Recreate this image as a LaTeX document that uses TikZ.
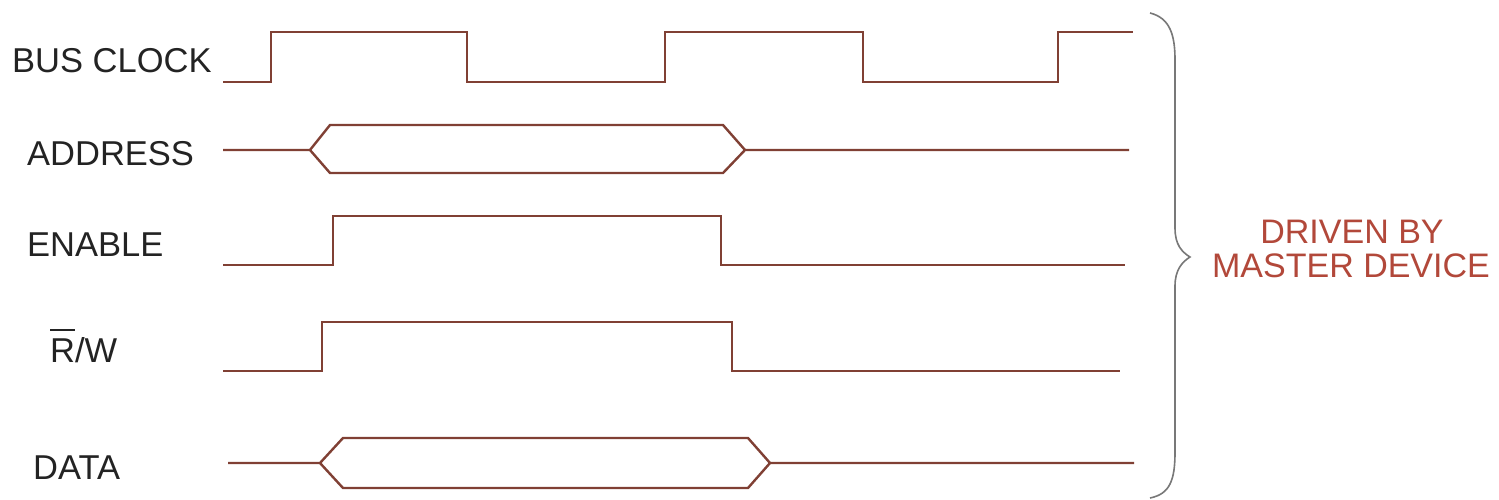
\documentclass[tikz,border=0pt]{standalone}
\usepackage{fontspec}
\setmainfont{Liberation Sans}
\definecolor{wave}{RGB}{128,64,52}
\definecolor{lbl}{RGB}{35,35,35}
\definecolor{drv}{RGB}{178,72,58}
\definecolor{brc}{RGB}{120,120,120}
\newcommand\myovl[1]{\vbox{\hrule height 2pt\kern 7pt\hbox{#1}}}
\begin{document}
\begin{tikzpicture}[x=1pt,y=-1pt,
  sig/.style={draw=wave,line width=2.4pt,line join=miter},
  lab/.style={anchor=base west,inner sep=0pt,text=lbl,font=\fontsize{34.5}{38}\selectfont},
  note/.style={anchor=base,inner sep=0pt,text=drv,font=\fontsize{34}{38}\selectfont},
  bracestyle/.style={draw=brc,line width=1.6pt}]
\useasboundingbox (0,0) rectangle (1499,500);
\fill[white] (0,0) rectangle (1499,500);
% labels
\node[lab] (clk) at (12,73) {BUS CLOCK};
\node[lab] (adr) at (27,165) {ADDRESS};
\node[lab] (ena) at (27,256) {ENABLE};
\node[lab] (rw) at (50,362) {\myovl{R}/W};
\node[lab] (dat) at (33,479) {DATA};
% bus clock
\path[sig] (223,82) -- (271,82) -- (271,32) -- (467,32) -- (467,82) -- (665,82) -- (665,32)
  -- (863,32) -- (863,82) -- (1058,82) -- (1058,32) -- (1133,32);
% address
\path[sig] (223,150) -- (310,150) -- (330,125) -- (723,125) -- (745,150) -- (1129,150);
\path[sig] (310,150) -- (330,173) -- (723,173) -- (745,150);
% enable
\path[sig] (223,265) -- (333,265) -- (333,216) -- (721,216) -- (721,265) -- (1125,265);
% r/w
\path[sig] (223,371) -- (322,371) -- (322,322) -- (732,322) -- (732,371) -- (1120,371);
% data
\path[sig] (228,463) -- (320,463) -- (343,438) -- (748,438) -- (770,463) -- (1134,463);
\path[sig] (320,463) -- (343,488) -- (748,488) -- (770,463);
% brace
\draw[bracestyle] (1150,13) .. controls (1170,18) and (1175,35) .. (1175,60) -- (1175,228)
  .. controls (1175,245) and (1182,252) .. (1190,257)
  .. controls (1182,262) and (1175,270) .. (1175,286) -- (1175,452)
  .. controls (1175,480) and (1170,494) .. (1150,498);
% note
\node[note] (n1) at (1352,243) {DRIVEN BY};
\node[note] (n2) at (1351,277) {MASTER DEVICE};
\end{tikzpicture}
\end{document}
